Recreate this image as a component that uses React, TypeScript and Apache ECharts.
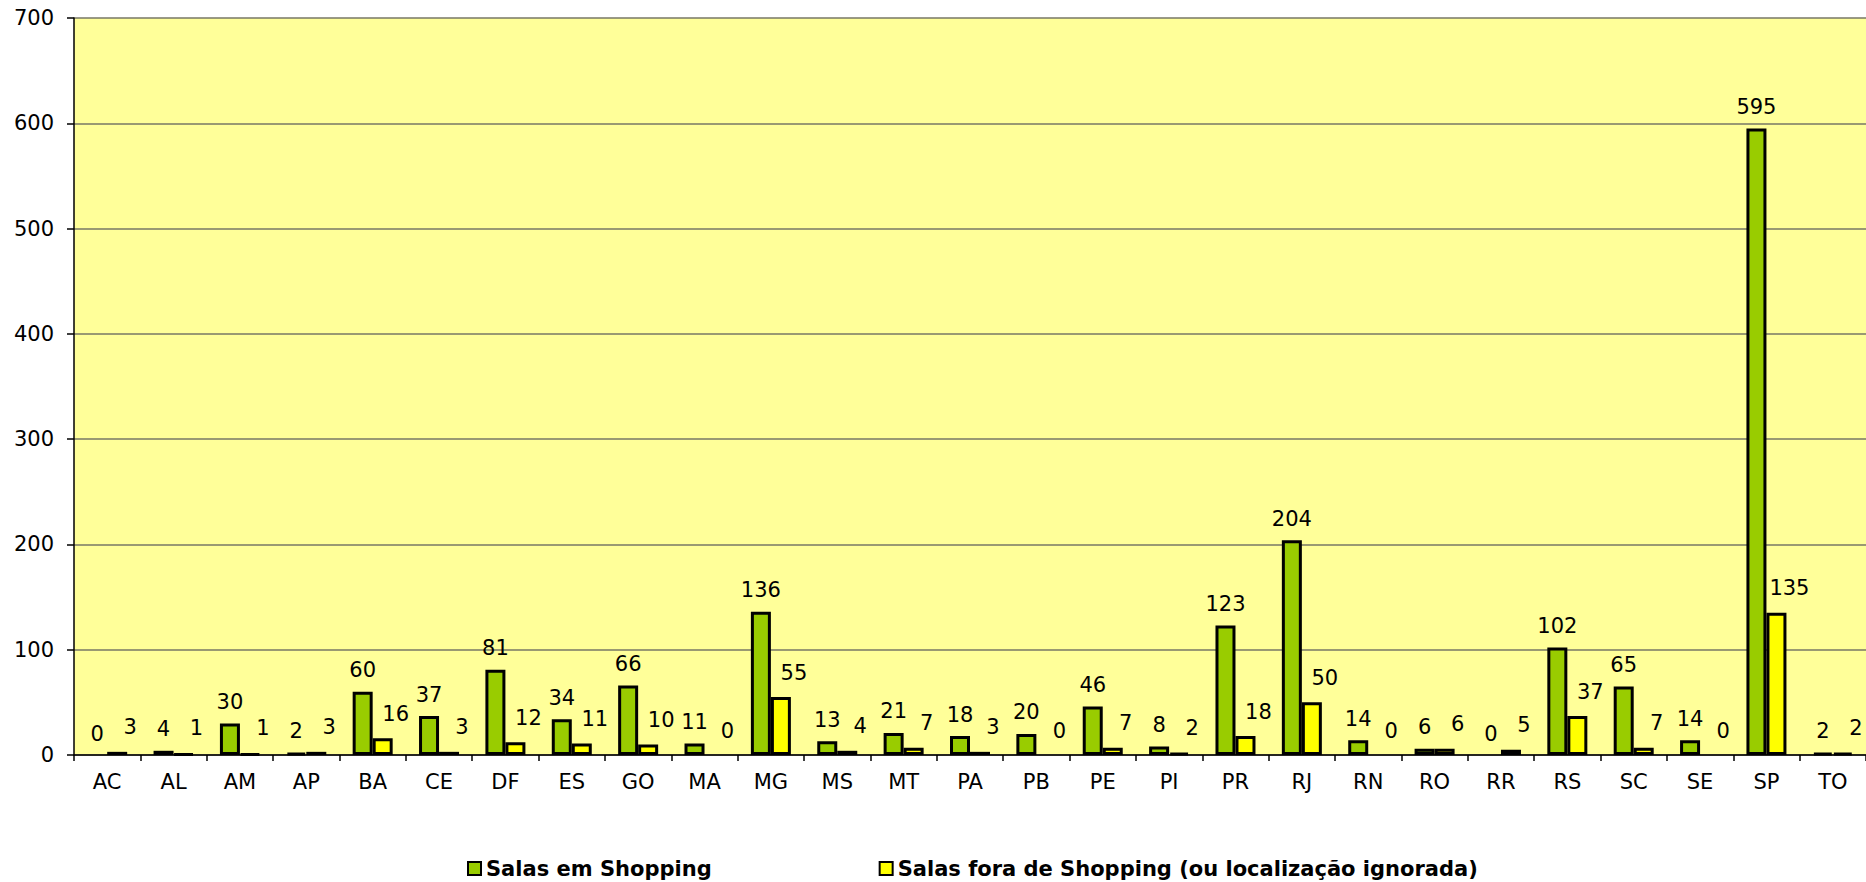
import React, { useEffect, useRef } from "react";
import * as echarts from "echarts";

const categories = ["AC","AL","AM","AP","BA","CE","DF","ES","GO","MA","MG","MS","MT","PA","PB","PE","PI","PR","RJ","RN","RO","RR","RS","SC","SE","SP","TO"];
const emShopping = [0,4,30,2,60,37,81,34,66,11,136,13,21,18,20,46,8,123,204,14,6,0,102,65,14,595,2];
const foraShopping = [3,1,1,3,16,3,12,11,10,0,55,4,7,3,0,7,2,18,50,0,6,5,37,7,0,135,2];
const yTicks = { min: 0, max: 700, interval: 100 };
const seriesNames = ["Salas em Shopping", "Salas fora de Shopping (ou localização ignorada)"];

const FONT = "'DejaVu Sans', Verdana, sans-serif";

function toData(arr: number[]) {
  return arr.map((v) => (v === 0 ? { value: v, itemStyle: { borderWidth: 0 } } : v));
}

export default function App() {
  const ref = useRef<HTMLDivElement>(null);
  useEffect(() => {
    if (!ref.current) return;
    const chart = echarts.init(ref.current, null, { renderer: "svg" });
    const labelBase = { show: true, position: "top" as const, distance: 11, color: "#000", fontSize: 21, fontFamily: FONT };
    chart.setOption({
      animation: false,
      backgroundColor: "#ffffff",
      grid: { left: 74, top: 18, width: 1795, height: 737, backgroundColor: "#FFFF99", show: true, borderWidth: 0 },
      legend: {
        left: 467,
        top: 858,
        padding: 0,
        itemWidth: 13,
        itemHeight: 13,
        itemGap: 167,
        icon: "rect",
        textStyle: { fontFamily: FONT, fontSize: 21, fontWeight: "bold", color: "#000" },
        data: seriesNames,
      },
      xAxis: {
        type: "category",
        data: categories,
        axisLine: { lineStyle: { color: "#000", width: 1.5 } },
        axisTick: { show: true, length: 6, lineStyle: { color: "#000", width: 1.5 } },
        axisLabel: { color: "#000", fontSize: 21, fontFamily: FONT, margin: 16, interval: 0 },
      },
      yAxis: {
        type: "value",
        min: yTicks.min,
        max: yTicks.max,
        interval: yTicks.interval,
        axisLine: { show: true, lineStyle: { color: "#000", width: 1.5 } },
        axisTick: { show: true, length: 7, lineStyle: { color: "#000", width: 1.5 } },
        axisLabel: { color: "#000", fontSize: 21, fontFamily: FONT, margin: 20 },
        splitLine: { show: true, lineStyle: { color: "#777766", width: 1.5 } },
      },
      series: [
        {
          name: seriesNames[0],
          type: "bar",
          data: toData(emShopping),
          barWidth: 20,
          barGap: "0%",
          itemStyle: { color: "#99CC00", borderColor: "#000", borderWidth: 3 },
          label: { ...labelBase },
        },
        {
          name: seriesNames[1],
          type: "bar",
          data: toData(foraShopping),
          barWidth: 20,
          barGap: "0%",
          itemStyle: { color: "#FFFF00", borderColor: "#000", borderWidth: 3 },
          label: { ...labelBase, offset: [13, -3] },
        },
      ],
    });
    return () => chart.dispose();
  }, []);
  return <div ref={ref} style={{ position: "fixed", left: 0, top: 0, width: 1866, height: 882 }} />;
}
